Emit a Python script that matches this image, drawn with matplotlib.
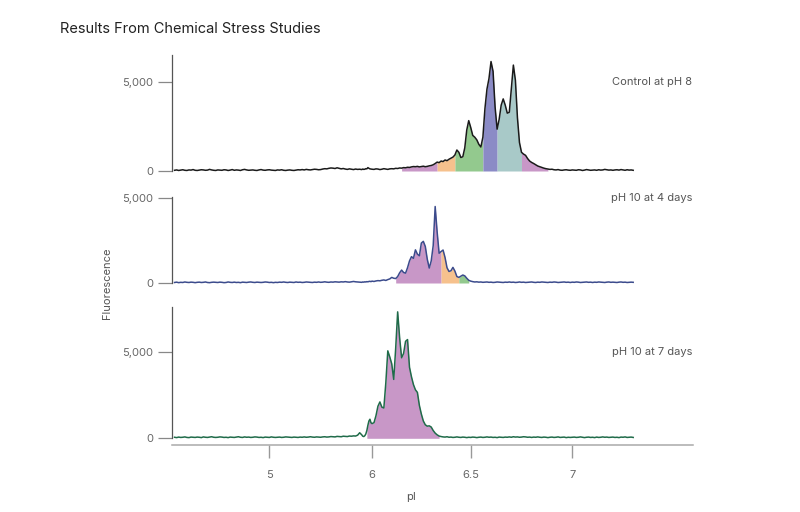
import matplotlib.pyplot as plt
import numpy as np
from matplotlib.ticker import FuncFormatter
from matplotlib.transforms import blended_transform_factory

plt.rcParams['font.family'] = ['Inter', 'DejaVu Sans']

# sample grid: every 0.02 below 5.9, every 0.01 from 5.9 up
pi_low = np.round(4.08 + 0.02 * np.arange(91), 2)
pi_high = np.round(5.90 + 0.01 * np.arange(141), 2)
pI = np.concatenate([pi_low, pi_high])

control_ph8 = [
    # 4.08 .. 5.88
    40, 60, 30, 50, 70, 40, 30, 60, 50, 80,
    40, 30, 50, 70, 60, 40, 50, 90, 60, 40,
    30, 60, 50, 40, 70, 60, 30, 50, 80, 40,
    60, 50, 30, 70, 90, 60, 40, 50, 60, 40,
    30, 60, 80, 50, 40, 60, 70, 50, 40, 30,
    60, 50, 70, 40, 30, 50, 60, 40, 30, 50,
    70, 60, 80, 60, 90, 70, 60, 80, 100, 90,
    70, 80, 110, 130, 120, 150, 170, 160, 140, 180,
    150, 120, 140, 110, 90, 120, 100, 80, 110, 90,
    100,
    # 5.90 .. 7.30
    80, 110, 90, 100, 130, 120, 190, 150, 120, 110,
    100, 90, 120, 110, 80, 100, 130, 110, 90, 120,
    130, 120, 150, 140, 170, 160, 190, 180, 210, 200,
    230, 250, 240, 260, 230, 250, 270, 240, 260, 290,
    310, 350, 420, 500, 470, 560, 530, 620, 580, 660,
    720, 780, 900, 1180, 1050, 760, 800, 1300, 2300, 2830,
    2450, 2000, 1900, 1750, 1500, 1350, 1900, 3500, 4600, 5200,
    6150, 5600, 3600, 2350, 2900, 3700, 4050, 3700, 3250, 3300,
    4600, 5950, 5100, 3000, 1600, 1050, 950, 880, 700, 560,
    480, 420, 350, 280, 240, 200, 160, 130, 110, 90,
    100, 70, 60, 80, 50, 40, 60, 70, 50, 40,
    60, 50, 40, 70, 60, 30, 50, 80, 60, 40,
    50, 60, 40, 70, 50, 60, 90, 70, 50, 60,
    40, 60, 70, 50, 80, 60, 40, 70, 50, 60,
    40,
]

ph10_4days = [
    30, 50, 20, 40, 30, 60, 40, 30, 50, 40,
    20, 40, 50, 30, 40, 60, 30, 20, 40, 50,
    40, 30, 50, 40, 20, 30, 60, 40, 30, 50,
    30, 40, 20, 50, 40, 30, 50, 60, 40, 30,
    50, 40, 30, 40, 60, 50, 30, 40, 20, 40,
    30, 50, 40, 60, 40, 30, 50, 40, 30, 60,
    40, 50, 30, 40, 60, 50, 40, 30, 50, 40,
    60, 40, 50, 70, 50, 40, 60, 50, 70, 60,
    50, 70, 60, 80, 60, 50, 70, 90, 70, 60,
    50,
    40, 60, 50, 70, 60, 80, 70, 90, 100, 80,
    110, 90, 120, 140, 130, 160, 180, 150, 200, 240,
    330, 280, 260, 380, 600, 760, 620, 580, 900, 1300,
    1550, 1450, 1950, 1700, 1600, 2350, 2450, 2150, 1400, 880,
    1300, 2200, 4500, 3000, 1750, 1850, 1940, 1500, 900, 680,
    720, 920, 700, 380, 330, 400, 470, 420, 280, 160,
    110, 80, 60, 70, 50, 60, 40, 50, 60, 40,
    50, 30, 40, 60, 50, 40, 30, 50, 40, 60,
    40, 50, 30, 40, 60, 40, 50, 30, 40, 50,
    60, 40, 30, 50, 40, 60, 50, 40, 30, 50,
    40, 60, 50, 30, 40, 50, 60, 40, 50, 30,
    50, 40, 60, 50, 30, 40, 50, 60, 40, 50,
    30, 50, 40, 60, 50, 40, 30, 50, 60, 40,
    50, 40, 30, 50, 60, 40, 50, 30, 40, 50,
    40,
]

ph10_7days = [
    60, 40, 70, 50, 60, 80, 50, 40, 70, 60,
    50, 70, 60, 40, 80, 60, 50, 70, 90, 60,
    50, 60, 80, 70, 50, 60, 40, 70, 60, 50,
    70, 90, 60, 50, 80, 60, 70, 50, 60, 80,
    70, 50, 60, 40, 70, 60, 50, 80, 60, 50,
    60, 70, 50, 60, 80, 70, 60, 50, 70, 60,
    50, 70, 60, 80, 60, 70, 90, 70, 60, 80,
    70, 60, 80, 90, 70, 80, 100, 90, 80, 110,
    100, 90, 120, 110, 100, 130, 120, 140, 130, 180,
    320,
    200, 120, 100, 150, 250, 450, 750, 1000, 1100, 900,
    850, 900, 1300, 1850, 2100, 1800, 1750, 3200, 5050, 4700,
    4300, 3400, 5200, 7300, 5800, 4650, 4900, 5600, 5700, 4100,
    3550, 3100, 2800, 2650, 1900, 1400, 1000, 780, 700, 720,
    650, 450, 300, 200, 130, 100, 80, 70, 90, 60,
    70, 50, 60, 80, 60, 50, 70, 60, 40, 60,
    50, 70, 60, 40, 60, 70, 50, 60, 80, 60,
    70, 50, 60, 40, 70, 60, 50, 70, 60, 80,
    60, 90, 70, 80, 60, 70, 90, 80, 60, 70,
    50, 70, 60, 80, 60, 50, 70, 60, 40, 60,
    70, 50, 60, 80, 50, 60, 70, 40, 60, 50,
    60, 70, 50, 60, 80, 60, 40, 60, 70, 50,
    60, 40, 70, 50, 60, 80, 60, 70, 50, 60,
    70, 50, 60, 40, 70, 60, 80, 50, 60, 70,
    50,
]

# shaded pI bands (start, end, colour key)
bands_control = [(6.15, 6.33, "purple"), (6.33, 6.42, "orange"), (6.42, 6.56, "green"),
                 (6.56, 6.63, "blue"), (6.63, 6.75, "teal"), (6.75, 6.88, "purple")]
bands_4days = [(6.12, 6.35, "purple"), (6.35, 6.44, "orange"), (6.44, 6.49, "green")]
bands_7days = [(5.95, 6.34, "purple")]

band_colors = {"purple": "#c897c7", "orange": "#f6c18d", "green": "#93c98e",
               "blue": "#8b8bc6", "teal": "#a8c9c8"}

panel_labels = ["Control at pH 8", "pH 10 at 4 days", "pH 10 at 7 days"]
x_ticks = [5, 6, 6.5, 7]

# the pI axis is not linear: spacing taken from the tick marks
scale_pi = [4.0, 5.0, 6.0, 6.5, 7.0, 7.7]
scale_pos = [166.3, 269.3, 372.0, 470.7, 572.3, 714.4]


def fwd(v):
    return np.interp(v, scale_pi, scale_pos)


def inv(p):
    return np.interp(p, scale_pos, scale_pi)


W, H = 800, 512
fig = plt.figure(figsize=(8, 5.12), dpi=100)

left_px, right_px = 172, 693
# (top px, zero px, px per 5000, ymin)
panels = [(55, 171, 89, -300), (197, 283, 85, -300), (307, 438.3, 86.6, -387)]
series = [control_ph8, ph10_4days, ph10_7days]
line_colors = ["#1a1a1a", "#3b4b8c", "#1f6b49"]
bands = [bands_control, bands_4days, bands_7days]

axes = []
for i, (top, zero, ppu, ymin) in enumerate(panels):
    scale = ppu / 5000
    ymax = (zero - top) / scale
    bottom = zero - ymin * scale
    ax = fig.add_axes([left_px / W, 1 - bottom / H,
                       (right_px - left_px) / W, (bottom - top) / H])
    ax.set_xscale('function', functions=(fwd, inv))
    ax.set_xlim(inv(left_px), inv(right_px))
    ax.set_ylim(ymin, ymax)

    y = np.array(series[i])
    for lo, hi, key in bands[i]:
        m = (pI >= lo - 1e-9) & (pI <= hi + 1e-9)
        ax.fill_between(pI[m], 0, y[m], color=band_colors[key], lw=0)
    ax.plot(pI, y, color=line_colors[i], lw=1.1)

    for s in ["top", "right"]:
        ax.spines[s].set_visible(False)
    ax.spines["left"].set_bounds(0, ymax)
    ax.spines["left"].set_color("#555555")
    ax.spines["left"].set_linewidth(0.9)
    ax.set_yticks([0, 5000])
    ax.yaxis.set_major_formatter(FuncFormatter(lambda v, p: f"{v:,.0f}"))
    ax.tick_params(axis="y", length=10, width=0.9, color="#888888",
                   labelcolor="#666666", labelsize=8, pad=3.5)

    tr = blended_transform_factory(ax.transAxes, ax.transData)
    ax.text(0.998, 5000, panel_labels[i], transform=tr, ha="right", va="center",
            fontsize=8, color="#555555")

    if i < 2:
        ax.spines["bottom"].set_visible(False)
        ax.tick_params(axis="x", bottom=False, labelbottom=False)
    else:
        ax.spines["bottom"].set_color("#aaaaaa")
        ax.spines["bottom"].set_linewidth(1.1)
        ax.set_xticks(x_ticks)
        ax.set_xticklabels([f"{t:g}" for t in x_ticks])
        ax.tick_params(axis="x", length=9.5, width=1.0, color="#999999",
                       labelcolor="#666666", labelsize=8, pad=8.5)
    ax.minorticks_off()
    axes.append(ax)

fig.text(60 / W, 1 - 29 / H, "Results From Chemical Stress Studies",
         ha="left", va="center", fontsize=10.5, color="#222222")
fig.text(107 / W, 1 - 283 / H, "Fluorescence", rotation=90,
         ha="center", va="center", fontsize=8, color="#555555")
fig.text(411 / W, 1 - 497 / H, "pI", ha="center", va="center",
         fontsize=8, color="#555555")

fig.savefig("out.png", dpi=100)
